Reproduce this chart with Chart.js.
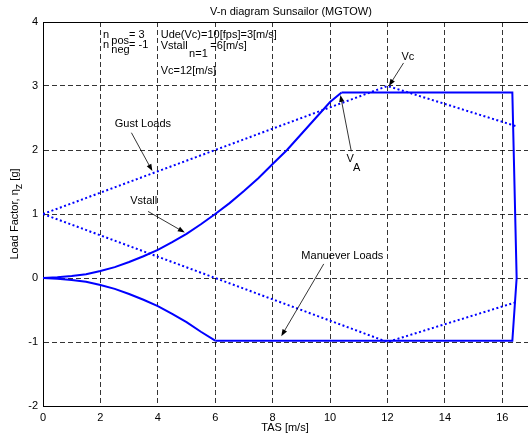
<!DOCTYPE html>
<html>
<head>
<meta charset="utf-8">
<script src="https://cdn.jsdelivr.net/npm/chart.js@4/dist/chart.umd.min.js"></script>
<style>
    html, body { margin: 0; padding: 0; background: #fff; overflow: hidden; }
    #grafico { display: block; }
</style>
</head>
<body>
<canvas id="grafico" width="534" height="440" style="width:534px;height:440px"></canvas>
<script>
// Dados (V em m/s, n em g)
const stallPosV = [0, 0.5, 1, 1.5, 2, 2.5, 3, 3.5, 4, 4.5, 5, 5.5, 6, 6.5, 7, 7.5, 8, 8.5, 9, 9.5, 10, 10.4];
const stallPosN = [0, 0.01, 0.03, 0.06, 0.11, 0.17, 0.25, 0.34, 0.44, 0.56, 0.69, 0.84, 1.0, 1.17, 1.36, 1.56, 1.78, 2.0, 2.25, 2.5, 2.75, 2.9];
const stallNegV = [0, 0.5, 1, 1.5, 2, 2.5, 3, 3.5, 4, 4.5, 5, 5.5, 6];
const stallNegN = [0, -0.01, -0.03, -0.06, -0.11, -0.17, -0.25, -0.34, -0.44, -0.56, -0.69, -0.84, -0.98];
const envelopeV = [10.4, 16.35, 16.5, 16.35, 6];
const envelopeN = [2.9, 2.9, 0, -0.98, -0.98];
const gustV = [0, 12, 16.5];
const gustPosN = [1, 3, 2.37];
const gustNegN = [1, -1, -0.375];
const xTicks = [0, 2, 4, 6, 8, 10, 12, 14, 16];
const yTicks = [-2, -1, 0, 1, 2, 3, 4];

const fonte = '"Liberation Sans", Arial, Helvetica, sans-serif';
const azul = '#0000ff';

function pontos(xs, ys) {
    return xs.map((x, i) => ({x: x, y: ys[i]}));
}

function linha(label, xs, ys, pontilhada) {
    return {
        label: label,
        data: pontos(xs, ys),
        showLine: true,
        borderColor: azul,
        borderWidth: 2,
        borderDash: pontilhada ? [2, 2.5] : [],
        pointRadius: 0,
        tension: 0,
        fill: false
    };
}

// desenha seta com ponta cheia
function seta(ctx, x1, y1, x2, y2) {
    const ang = Math.atan2(y2 - y1, x2 - x1);
    const tam = 7, larg = 2.6;
    ctx.beginPath();
    ctx.moveTo(x1, y1);
    ctx.lineTo(x2 - Math.cos(ang) * tam * 0.8, y2 - Math.sin(ang) * tam * 0.8);
    ctx.stroke();
    ctx.beginPath();
    ctx.moveTo(x2, y2);
    ctx.lineTo(x2 - Math.cos(ang) * tam - Math.sin(ang) * larg, y2 - Math.sin(ang) * tam + Math.cos(ang) * larg);
    ctx.lineTo(x2 - Math.cos(ang) * tam + Math.sin(ang) * larg, y2 - Math.sin(ang) * tam - Math.cos(ang) * larg);
    ctx.closePath();
    ctx.fill();
}

const anotacoes = {
    id: 'anotacoes',
    afterDraw(chart) {
        const ctx = chart.ctx;
        const sx = chart.scales.x, sy = chart.scales.y;
        const area = chart.chartArea;
        const px = v => sx.getPixelForValue(v);
        const py = v => sy.getPixelForValue(v);

        ctx.save();
        // borda superior
        ctx.strokeStyle = '#000';
        ctx.lineWidth = 1;
        ctx.beginPath();
        ctx.moveTo(area.left, area.top + 0.5);
        ctx.lineTo(area.right, area.top + 0.5);
        ctx.stroke();

        ctx.fillStyle = '#000';
        ctx.font = '11px ' + fonte;
        ctx.textBaseline = 'middle';

        // titulo e eixos
        ctx.textAlign = 'center';
        ctx.fillText('V-n diagram Sunsailor (MGTOW)', 291, 12);
        ctx.fillText('TAS [m/s]', (area.left + area.right) / 2 - 2, 428);

        ctx.save();
        ctx.translate(15, (area.top + area.bottom) / 2);
        ctx.rotate(-Math.PI / 2);
        const p1 = 'Load Factor, \u03b7', p2 = 'z', p3 = ' [g]';
        const w1 = ctx.measureText(p1).width, w2 = ctx.measureText(p2).width, w3 = ctx.measureText(p3).width;
        let x0 = -(w1 + w2 + w3) / 2;
        ctx.textAlign = 'left';
        ctx.fillText(p1, x0, 0);
        ctx.fillText(p2, x0 + w1, 4);
        ctx.fillText(p3, x0 + w1 + w2, 0);
        ctx.restore();

        // textos dentro do grafico (posicao em unidades dos eixos)
        const textos = [
            ['n', 2.09, 3.80], ['pos', 2.38, 3.70], ['= 3', 3.0, 3.80],
            ['n', 2.09, 3.64], ['neg', 2.38, 3.57], ['= -1', 3.0, 3.64],
            ['Ude(Vc)=10[fps]=3[m/s]', 4.10, 3.79],
            ['Vstall', 4.10, 3.63], ['n=1', 5.09, 3.50], ['=6[m/s]', 5.83, 3.63],
            ['Vc=12[m/s]', 4.10, 3.24],
            ['Gust Loads', 2.5, 2.40],
            ['Vstall', 3.04, 1.20],
            ['Manuever Loads', 9.0, 0.35],
            ['Vc', 12.49, 3.46],
            ['V', 10.57, 1.86], ['A', 10.8, 1.72]
        ];
        ctx.textAlign = 'left';
        textos.forEach(t => ctx.fillText(t[0], px(t[1]), py(t[2])));

        // setas
        const setas = [
            [3.08, 2.27, 3.81, 1.67],
            [3.66, 1.04, 4.94, 0.71],
            [9.78, 0.22, 8.3, -0.91],
            [12.56, 3.36, 12.05, 3.0],
            [10.74, 1.98, 10.36, 2.86]
        ];
        ctx.lineWidth = 0.8;
        setas.forEach(s => seta(ctx, px(s[0]), py(s[1]), px(s[2]), py(s[3])));
        ctx.restore();
    }
};

function montarGrafico() {
    const graf = document.getElementById('grafico').getContext('2d');

    const meuGrafico = new Chart(graf, {
        type: 'scatter',
        data: {
            datasets: [
                linha('Gust +', gustV, gustPosN, true),
                linha('Gust -', gustV, gustNegN, true),
                linha('Stall +', stallPosV, stallPosN, false),
                linha('Envelope', envelopeV, envelopeN, false),
                linha('Stall -', stallNegV, stallNegN, false)
            ]
        },
        options: {
            responsive: false,
            animation: false,
            devicePixelRatio: 1,
            layout: {padding: {top: 22, right: 3, left: 0, bottom: 0}},
            plugins: {
                legend: {display: false},
                tooltip: {enabled: false}
            },
            scales: {
                x: {
                    type: 'linear',
                    min: 0,
                    max: 17,
                    afterBuildTicks: s => { s.ticks = xTicks.map(v => ({value: v})); },
                    ticks: {color: '#000', font: {family: fonte, size: 11}, padding: 5},
                    grid: {color: '#000', lineWidth: 0.8, drawTicks: false},
                    border: {color: '#000', width: 1, dash: [5, 3]},
                    afterFit: s => { s.height = 34; }
                },
                y: {
                    min: -2,
                    max: 4,
                    afterBuildTicks: s => { s.ticks = yTicks.map(v => ({value: v})); },
                    ticks: {color: '#000', font: {family: fonte, size: 11}, padding: 5},
                    grid: {color: '#000', lineWidth: 0.8, drawTicks: false},
                    border: {color: '#000', width: 1, dash: [5, 3]},
                    afterFit: s => { s.width = 43; }
                }
            }
        },
        plugins: [anotacoes]
    });
}

montarGrafico();
</script>
</body>
</html>
